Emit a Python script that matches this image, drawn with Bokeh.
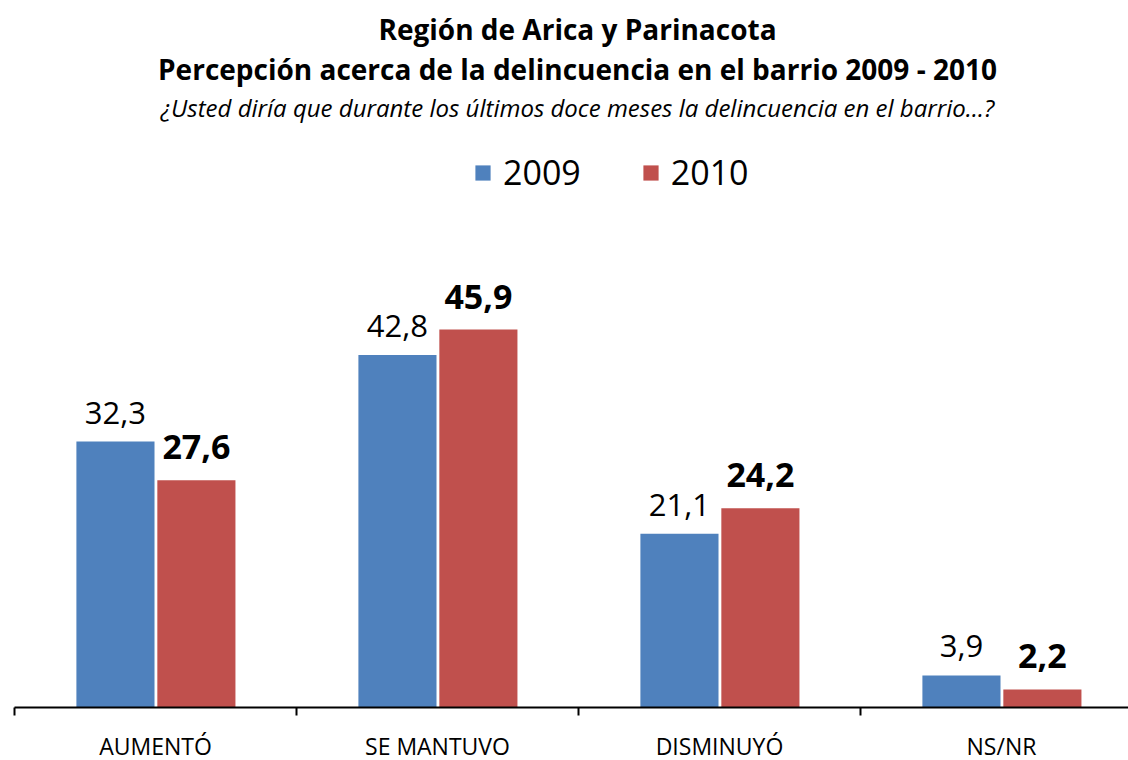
from bokeh.plotting import figure
from bokeh.models import (ColumnDataSource, Range1d, FixedTicker, LabelSet, Label,
                          Legend, LegendItem)
from bokeh.core.properties import value
from bokeh.embed import file_html
from bokeh.resources import INLINE

categories = ["AUMENTÓ", "SE MANTUVO", "DISMINUYÓ", "NS/NR"]
values_2009 = [32.3, 42.8, 21.1, 3.9]
values_2010 = [27.6, 45.9, 24.2, 2.2]
labels_2009 = ["32,3", "42,8", "21,1", "3,9"]
labels_2010 = ["27,6", "45,9", "24,2", "2,2"]
series_names = ["2009", "2010"]
title_lines = ["Región de Arica y Parinacota",
               "Percepción acerca de la delincuencia en el barrio 2009 - 2010"]
subtitle = "¿Usted diría que durante los últimos doce meses la delincuencia en el barrio…?"

BLUE = "#4F81BD"
RED = "#C0504D"
FONT = "Open Sans"

idx = list(range(len(categories)))
x_2009 = [i + 0.5 - 0.142 for i in idx]
x_2010 = [i + 0.5 + 0.145 for i in idx]

src09 = ColumnDataSource(dict(x=x_2009, top=values_2009, lab=labels_2009))
src10 = ColumnDataSource(dict(x=x_2010, top=values_2010, lab=labels_2010))

p = figure(frame_width=1114, frame_height=699, output_backend="svg", toolbar_location=None,
           x_range=Range1d(0, 1114 / 282), y_range=Range1d(0, 699 / 8.235),
           min_border_left=14, min_border_right=0, min_border_top=8, min_border_bottom=0)
p.outline_line_color = None
p.grid.visible = False
p.yaxis.visible = False
p.background_fill_color = "white"
p.border_fill_color = "white"

r1 = p.vbar(x="x", top="top", width=0.277, source=src09, color=BLUE, line_color=None)
r2 = p.vbar(x="x", top="top", width=0.277, source=src10, color=RED, line_color=None)

ax = p.xaxis[0]
ax.ticker = FixedTicker(ticks=[i + 0.5 for i in idx], minor_ticks=list(range(len(categories) + 1)))
ax.major_label_overrides = {i + 0.5: c for i, c in zip(idx, categories)}
ax.major_tick_out = 0
ax.major_tick_in = 0
ax.minor_tick_out = 8
ax.minor_tick_in = 0
ax.minor_tick_line_color = "black"
ax.minor_tick_line_width = 2
ax.axis_line_color = "black"
ax.axis_line_width = 2
ax.major_label_standoff = 14
ax.major_label_text_font = FONT
ax.major_label_text_font_size = "23px"
ax.major_label_text_color = "black"

p.add_layout(LabelSet(x="x", y="top", text="lab", source=src09, y_offset=18,
                      text_align="center", text_baseline="alphabetic",
                      text_font=value(FONT), text_font_size=value("31px"), text_color="black"))
p.add_layout(LabelSet(x="x", y="top", text="lab", source=src10, y_offset=21,
                      text_align="center", text_baseline="alphabetic",
                      text_font=value(FONT), text_font_size=value("34px"),
                      text_font_style="bold", text_color="black"))

cx = 577 - 14
p.add_layout(Label(x=cx, y=707 - 43 + 15, x_units="screen", y_units="screen", text=title_lines[0],
                   text_align="center", text_baseline="alphabetic", text_font=FONT,
                   text_font_size="28px", text_font_style="bold", text_color="black"))
p.add_layout(Label(x=cx, y=707 - 80 + 12, x_units="screen", y_units="screen", text=title_lines[1],
                   text_align="center", text_baseline="alphabetic", text_font=FONT,
                   text_font_size="28px", text_font_style="bold", text_color="black"))
p.add_layout(Label(x=cx, y=707 - 107, x_units="screen", y_units="screen", text=subtitle,
                   text_align="center", text_baseline="alphabetic", text_font=FONT,
                   text_font_size="24px", text_font_style="italic", text_color="black"))

legend = Legend(items=[LegendItem(label=series_names[0], renderers=[r1]),
                       LegendItem(label=series_names[1], renderers=[r2])],
                orientation="horizontal", location=(459, 512),
                glyph_width=19, glyph_height=19, label_standoff=11, spacing=60,
                padding=0, margin=0, border_line_color=None, background_fill_alpha=0,
                label_text_font=FONT, label_text_font_size="34px", label_text_color="black")
p.add_layout(legend, "center")

open("out.html", "w").write(file_html(p, INLINE))
